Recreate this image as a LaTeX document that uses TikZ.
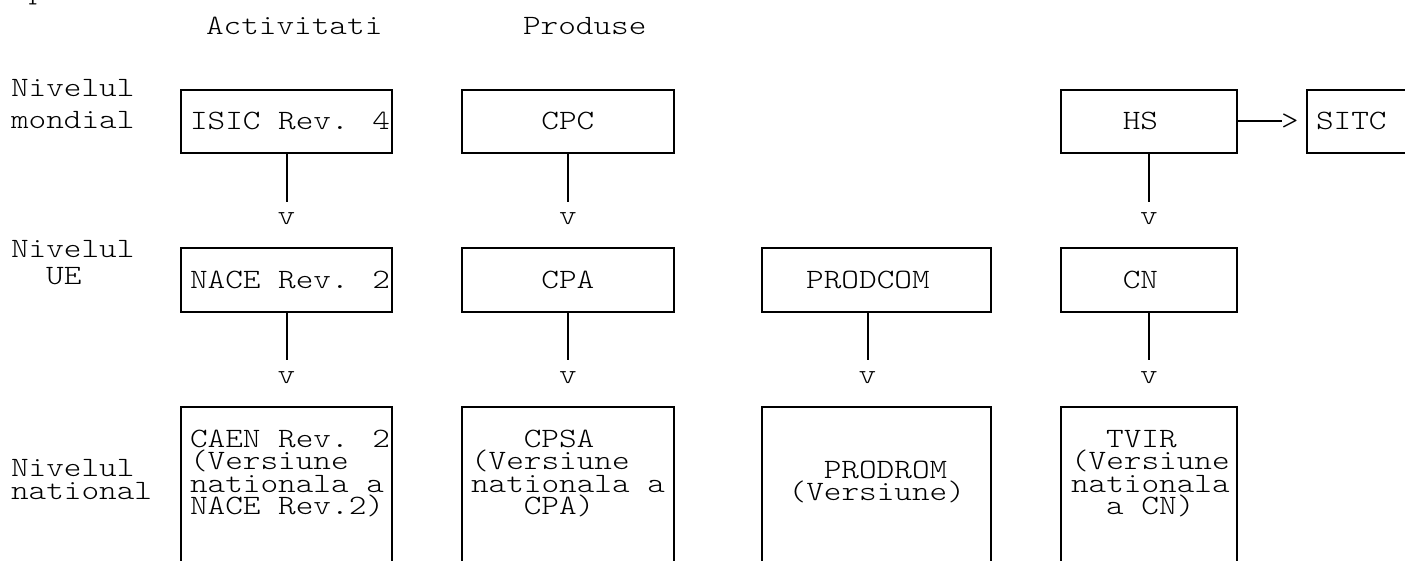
\documentclass[tikz,border=0pt]{standalone}
\usepackage{fontspec}
\newfontfamily\asciifont[FakeStretch=1.2]{lmmonolt10-regular.otf}
\begin{document}
\begin{tikzpicture}[x=1pt,y=-1pt,
  box/.style={draw, line width=2pt, rectangle, inner sep=0pt, outer sep=0pt, line join=miter},
  txt/.style={anchor=base west, inner sep=0pt, outer sep=0pt, text height=15pt, text depth=4pt, font=\asciifont\fontsize{28}{28}\selectfont},
  tip/.style={anchor=base, inner sep=0pt, outer sep=0pt, text height=12pt, text depth=0pt, font=\asciifont\fontsize{28}{28}\selectfont},
  conn/.style={line width=2pt}]
\useasboundingbox (0,0) rectangle (1405,561);

% cut-off text at the top
\node[txt] (ptop) at (28.6,-1) {p};

% column headers
\node[txt] (hact) at (206,35) {Activitati};
\node[txt] (hprod) at (523,35) {Produse};

% level labels
\node[txt] (l1a) at (11,97) {Nivelul};
\node[txt] (l1b) at (11,129) {mondial};
\node[txt] (l2a) at (11,258) {Nivelul};
\node[txt] (l2b) at (46.2,285) {UE};
\node[txt] (l3a) at (11,476) {Nivelul};
\node[txt] (l3b) at (11,499) {national};

% row 1 boxes
\node[box, minimum width=211pt, minimum height=63pt] (isic) at (286.5,121.5) {};
\node[box, minimum width=212pt, minimum height=63pt] (cpc) at (568,121.5) {};
\node[box, minimum width=176pt, minimum height=63pt] (hs) at (1149,121.5) {};
\node[box, minimum width=200pt, minimum height=63pt] (sitc) at (1407,121.5) {};
\node[txt] (isicT) at (190,130) {ISIC Rev. 4};
\node[txt] (cpcT) at (541.4,130) {CPC};
\node[txt] (hsT) at (1122.8,130) {HS};
\node[txt] (sitcT) at (1316,130) {SITC};

% row 2 boxes
\node[box, minimum width=211pt, minimum height=64pt] (nace) at (286.5,280) {};
\node[box, minimum width=212pt, minimum height=64pt] (cpa) at (568,280) {};
\node[box, minimum width=229pt, minimum height=64pt] (prodcom) at (876.5,280) {};
\node[box, minimum width=176pt, minimum height=64pt] (cn) at (1149,280) {};
\node[txt] (naceT) at (190,288) {NACE Rev. 2};
\node[txt] (cpaT) at (541.4,288) {CPA};
\node[txt] (prodcomT) at (806.2,288) {PRODCOM};
\node[txt] (cnT) at (1122.8,288) {CN};

% row 3 boxes (cut off at the bottom)
\node[box, minimum width=211pt, minimum height=233pt] (caen) at (286.5,523.5) {};
\node[box, minimum width=212pt, minimum height=233pt] (cpsa) at (568,523.5) {};
\node[box, minimum width=229pt, minimum height=233pt] (prodrom) at (876.5,523.5) {};
\node[box, minimum width=176pt, minimum height=233pt] (tvir) at (1149,523.5) {};

\node[txt] (caenA) at (190,447) {CAEN Rev. 2};
\node[txt] (caenB) at (190,469.5) {(Versiune};
\node[txt] (caenC) at (190,492) {nationala a};
\node[txt] (caenD) at (190,514.5) {NACE Rev.2)};

\node[txt] (cpsaA) at (523.8,447) {CPSA};
\node[txt] (cpsaB) at (471,469.5) {(Versiune};
\node[txt] (cpsaC) at (471,492) {nationala a};
\node[txt] (cpsaD) at (523.8,514.5) {CPA)};

\node[txt] (prodromA) at (823.8,478) {PRODROM};
\node[txt] (prodromB) at (788.6,500) {(Versiune)};

\node[txt] (tvirA) at (1106.2,447) {TVIR};
\node[txt] (tvirB) at (1071,469.5) {(Versiune};
\node[txt] (tvirC) at (1071,492) {nationala};
\node[txt] (tvirD) at (1106.2,514.5) {a CN)};

% connectors row 1 -> row 2
\coordinate (e1) at (286.5,202);
\coordinate (e2) at (568,202);
\coordinate (e3) at (1149,202);
\draw[conn] (isic.south) -- (e1);
\draw[conn] (cpc.south) -- (e2);
\draw[conn] (hs.south) -- (e3);
\node[tip] (v1) at (286.5,225) {v};
\node[tip] (v2) at (568,225) {v};
\node[tip] (v3) at (1149,225) {v};

% connectors row 2 -> row 3
\coordinate (e4) at (286.5,360);
\coordinate (e5) at (568,360);
\coordinate (e6) at (867.5,360);
\coordinate (e7) at (1149,360);
\draw[conn] (nace.south) -- (e4);
\draw[conn] (cpa.south) -- (e5);
\draw[conn] (prodcom.south -| e6) -- (e6);
\draw[conn] (cn.south) -- (e7);
\node[tip] (v4) at (286.5,383) {v};
\node[tip] (v5) at (568,383) {v};
\node[tip] (v6) at (867.5,383) {v};
\node[tip] (v7) at (1149,383) {v};

% HS -> SITC
\coordinate (ea) at (1282,121.5);
\draw[conn] (hs.east) -- (ea);
\node[txt] (gt) at (1281,130) {>};
\end{tikzpicture}
\end{document}
